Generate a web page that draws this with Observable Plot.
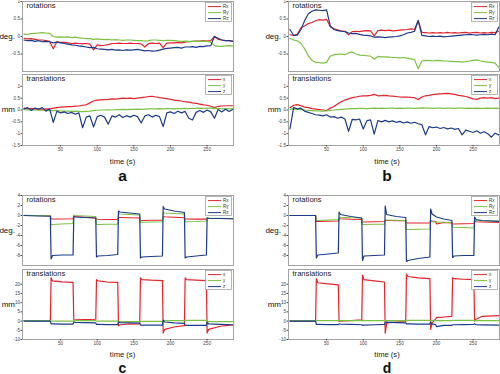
<!DOCTYPE html>
<html><head><meta charset="utf-8">
<script src="https://cdn.jsdelivr.net/npm/d3@7"></script>
<script src="https://cdn.jsdelivr.net/npm/@observablehq/plot@0.6"></script>
<style>
body{margin:0;background:#fff;}
#fig{position:relative;width:500px;height:374px;overflow:hidden;background:#fff;font-family:"Liberation Sans",Arial,sans-serif;}
</style></head><body><div id="fig"></div>
<script>
// ---------- time grids ----------
const tAB = [0,5,10,15,20,25,30,35,40,45,50,55,60,65,70,75,80,85,90,95,100,105,110,115,120,125,130,135,140,145,150,155,160,165,170,175,180,185,190,195,200,205,210,215,220,225,230,235,240,245,250,255,260,265,270,275,280,285];
const tC = [0,18,36, 37,39,52,67, 68,70,83,98, 99,101,114,128, 129,131,144,158, 159,161,174,189, 190,192,205,219, 220,222,235,249, 250,252,268,286];
const tD = [0,18,35, 36,38,52,66, 67,69,83,98, 99,101,115,129, 130,132,145,158, 159,161,175,191, 192,194,199,200,210,221, 222,224,237,251, 252,254,262,286];

// ---------- panel a ----------
const aRx = [-0.05,-0.07,-0.06,-0.08,-0.10,-0.10,-0.12,-0.14,-0.35,-0.15, -0.17,-0.17,-0.18,-0.20,-0.19,-0.20,-0.21,-0.20,-0.22,-0.38, -0.24,-0.26,-0.25,-0.23,-0.20,-0.20,-0.19,-0.20,-0.20,-0.19, -0.20,-0.20,-0.21,-0.30,-0.20,-0.19,-0.20,-0.19,-0.32,-0.19, -0.18,-0.18,-0.17,-0.18,-0.16,-0.15,-0.14,-0.13,-0.13,-0.12, -0.13,-0.12,0.00,-0.08,-0.10,-0.12,-0.12,-0.13];
const aRy = [0.07,0.06,0.08,0.09,0.10,0.11,0.10,0.09,0.00,-0.02, -0.01,-0.02,-0.01,-0.03,-0.02,-0.04,-0.05,-0.06,-0.06,-0.08, -0.07,-0.08,-0.09,-0.08,-0.10,-0.09,-0.10,-0.11,-0.10,-0.10, -0.11,-0.12,-0.12,-0.13,-0.12,-0.10,-0.10,-0.11,-0.12,-0.11, -0.11,-0.12,-0.13,-0.14,-0.13,-0.14,-0.14,-0.13,-0.14,-0.13, -0.14,-0.16,-0.26,-0.28,-0.28,-0.27,-0.26,-0.27];
const aRz = [-0.10,-0.12,-0.11,-0.14,-0.12,-0.15,-0.14,-0.15,-0.18,-0.16, -0.18,-0.20,-0.22,-0.24,-0.25,-0.27,-0.28,-0.30,-0.32,-0.31, -0.35,-0.36,-0.37,-0.38,-0.37,-0.39,-0.38,-0.40,-0.38,-0.39, -0.38,-0.37,-0.39,-0.41,-0.40,-0.42,-0.41,-0.39,-0.36,-0.34, -0.33,-0.32,-0.31,-0.33,-0.30,-0.30,-0.29,-0.31,-0.28,-0.29, -0.27,-0.26,0.00,-0.05,-0.10,-0.12,-0.12,-0.14];
const aX = [0.08,0.05,0.07,0.04,0.05,0.03,0.05,0.04,0.08,0.10, 0.12,0.13,0.14,0.14,0.16,0.17,0.20,0.22,0.30,0.38, 0.42,0.43,0.44,0.45,0.47,0.46,0.48,0.50,0.49,0.50, 0.48,0.50,0.52,0.54,0.57,0.58,0.55,0.52,0.50,0.48, 0.45,0.42,0.40,0.38,0.35,0.33,0.30,0.28,0.25,0.22, 0.20,0.16,0.10,0.15,0.17,0.18,0.18,0.18];
const aY = [0.02,0.00,0.01,0.00,-0.01,0.00,-0.02,-0.03,-0.03,-0.02, -0.04,-0.05,-0.05,-0.06,-0.05,-0.06,-0.07,-0.06,-0.05,-0.03, -0.01,0.00,0.00,0.01,0.00,0.02,0.02,0.03,0.02,0.03, 0.03,0.04,0.03,0.04,0.05,0.05,0.05,0.06,0.05,0.06, 0.06,0.05,0.06,0.06,0.07,0.06,0.07,0.07,0.08,0.07, 0.08,0.08,0.07,0.06,0.05,0.06,0.05,0.05];
const aZ = [0.05,0.10,-0.02,0.08,0.03,0.10,-0.05,0.05,-0.52,-0.05, -0.12,-0.08,-0.15,-0.10,-0.18,-0.12,-0.75,-0.30,-0.25,-0.72, -0.28,-0.22,-0.30,-0.60,-0.25,-0.30,-0.20,-0.32,-0.24,-0.30, -0.22,-0.28,-0.55,-0.25,-0.20,-0.30,-0.22,-0.28,-0.70,-0.12, -0.08,-0.15,-0.05,-0.12,-0.06,-0.35,-0.42,-0.10,-0.02,-0.10, 0.00,-0.08,-0.35,0.02,-0.08,0.03,-0.06,0.02];

// ---------- panel b ----------
const bRx = [0.05,0.03,0.06,0.25,0.30,0.37,0.40,0.45,0.48,0.47, 0.49,0.28,0.22,0.19,0.16,0.15,0.05,0.14,0.15,0.14, 0.16,0.17,0.16,0.02,0.17,0.18,0.17,0.18,0.16,0.17, 0.18,0.19,0.20,0.22,0.20,0.45,0.12,0.11,0.10,0.11, 0.10,0.11,0.10,0.12,0.10,0.11,0.10,0.11,0.12,0.10, 0.11,0.12,0.10,0.11,0.10,0.12,0.11,0.15];
const bRy = [-0.05,-0.10,-0.12,-0.20,-0.35,-0.55,-0.68,-0.74,-0.75,-0.76, -0.74,-0.56,-0.52,-0.51,-0.50,-0.52,-0.47,-0.44,-0.50,-0.53, -0.54,-0.55,-0.56,-0.65,-0.57,-0.58,-0.58,-0.59,-0.60,-0.60, -0.61,-0.60,-0.62,-0.64,-0.66,-0.92,-0.70,-0.68,-0.69,-0.70, -0.68,-0.69,-0.70,-0.70,-0.71,-0.72,-0.72,-0.73,-0.72,-0.70, -0.68,-0.67,-0.70,-0.72,-0.73,-0.74,-0.76,-0.88];
const bRz = [0.20,0.03,0.04,0.20,0.45,0.65,0.72,0.76,0.75,0.74, 0.76,0.30,0.20,0.17,0.15,0.14,0.10,0.08,0.09,0.06, 0.04,0.03,0.02,-0.02,-0.01,-0.02,-0.03,-0.02,-0.01,0.00, 0.02,0.05,0.10,0.12,0.15,0.46,0.03,0.02,0.00,0.01, 0.00,0.01,-0.01,0.00,0.01,0.02,0.03,0.04,0.05,0.06, 0.05,0.04,0.05,0.06,0.05,0.07,0.05,0.27];
const bX = [0.10,0.20,0.23,0.18,0.12,0.10,0.06,0.04,0.02,0.00, -0.02,0.08,0.15,0.25,0.35,0.42,0.47,0.52,0.55,0.58, 0.60,0.60,0.62,0.66,0.60,0.61,0.62,0.60,0.59,0.57, 0.55,0.54,0.55,0.53,0.52,0.44,0.55,0.60,0.62,0.65, 0.67,0.68,0.69,0.70,0.68,0.66,0.62,0.60,0.57,0.52, 0.47,0.45,0.50,0.52,0.50,0.52,0.48,0.50];
const bY = [0.04,0.05,0.03,0.02,0.00,-0.02,-0.03,-0.04,-0.04,-0.05, -0.04,-0.02,0.00,0.02,0.03,0.04,0.05,0.06,0.06,0.07, 0.07,0.06,0.07,0.08,0.07,0.08,0.07,0.08,0.08,0.07, 0.08,0.07,0.08,0.08,0.07,0.08,0.09,0.08,0.08,0.07, 0.08,0.08,0.07,0.08,0.08,0.07,0.08,0.08,0.07,0.08, 0.07,0.08,0.07,0.07,0.08,0.07,0.08,0.07];
const bZ = [-0.80,0.10,0.05,0.08,-0.05,-0.10,-0.15,-0.20,-0.22,-0.25, -0.20,-0.30,-0.28,-0.35,-0.30,-0.38,-0.90,-0.40,-0.42,-0.38, -0.80,-0.45,-0.42,-1.02,-0.45,-0.50,-0.44,-0.50,-0.46,-0.52, -0.48,-0.55,-0.50,-0.56,-0.52,-0.58,-0.62,-1.05,-0.70,-0.75, -0.72,-0.78,-0.74,-0.80,-0.76,-0.82,-0.78,-1.05,-0.85,-0.90, -0.95,-0.88,-0.98,-0.92,-1.00,-1.15,-0.98,-1.05];

// ---------- panel c ----------
const cRx = [0,0,-0.05, -0.7,-0.7,-0.7,-0.65, -0.1,-0.2,-0.35,-0.5, -0.7,-0.75,-0.8,-0.8, -0.4,-0.4,-0.45,-0.5, -1.0,-1.0,-0.95,-0.95, -0.2,-0.25,-0.35,-0.45, -0.7,-0.7,-0.72,-0.72, -0.5,-0.55,-0.6,-0.65];
const cRy = [0.05,0,-0.05, -1.9,-1.8,-1.7,-1.6, 0.1,0,-0.1,-0.2, -1.8,-1.8,-1.75,-1.75, 0.4,0.3,0.2,0.1, -1.4,-1.35,-1.3,-1.25, 0.6,0.5,0.4,0.3, -1.3,-1.25,-1.2,-1.1, -0.45,-0.5,-0.55,-0.6];
const cRz = [0,-0.1,-0.15, -8.7,-8.0,-7.9,-7.9, -0.2,-0.3,-0.4,-0.5, -8.3,-8.1,-8.0,-7.8, 0.9,0.7,0.5,0.3, -8.5,-8.3,-8.2,-8.1, 1.8,1.3,0.9,0.6, -8.5,-8.3,-8.1,-7.9, -0.5,-0.55,-0.6,-0.65];
const cX = [0.3,0.3,0.3, 23.5,21.8,21.3,21.0, 0.5,0.6,0.8,1.0, 22.5,21.8,21.2,21.0, -2.5,-2.0,-1.6,-1.5, 23.5,22.5,22.2,22.0, -6.5,-4.5,-3.2,-2.5, 23.5,22.5,22.2,22.0, -6.5,-4.5,-2.8,-2.0];
const cY = [0.2,0.2,0.2, 0,0,0,0, 0.2,0.2,0.2,0.2, 0,0,0,0, -0.3,-0.3,-0.3,-0.3, -0.2,-0.2,-0.2,-0.2, 0.3,0.3,0.3,0.3, 0.4,0.4,0.4,0.4, -0.3,-0.3,-0.3,-0.3];
const cZ = [0,0,0, -1.5,-1.5,-1.6,-1.6, -0.5,-0.7,-0.8,-1.0, -1.8,-1.8,-1.9,-1.9, -0.5,-0.8,-1.0,-1.1, -2.2,-2.2,-2.2,-2.2, 0.5,-0.5,-1.0,-1.2, -2.2,-2.3,-2.3,-2.3, -0.5,-1.5,-1.8,-2.0];

// ---------- panel d ----------
const dRx = [0,0,0, -1.2,-1.2,-1.15,-1.1, -0.6,-0.65,-0.75,-0.8, -1.3,-1.3,-1.25,-1.2, -1.0,-1.0,-1.05,-1.05, -1.5,-1.5,-1.5,-1.5, -1.0,-1.1,-1.2,-1.7,-1.4,-1.5, -1.7,-1.7,-1.65,-1.6, -1.2,-1.25,-1.3,-1.4];
const dRy = [0,0,0, -1.0,-1.0,-0.9,-0.8, -0.3,-0.35,-0.45,-0.5, -1.8,-1.8,-1.75,-1.75, -0.9,-0.9,-0.95,-1.0, -2.8,-2.8,-2.75,-2.7, -1.2,-1.25,-1.3,-1.3,-1.35,-1.4, -2.3,-2.35,-2.4,-2.5, -1.0,-1.0,-1.05,-1.1];
const dRz = [0,0,0, -8.5,-7.9,-7.7,-7.5, 0.7,0.2,-0.2,-0.5, -9.0,-8.1,-8.0,-7.9, 1.9,0.2,-0.2,-0.4, -9.2,-9.0,-8.6,-8.3, 1.3,0.3,-0.2,-0.3,-0.7,-1.0, -8.4,-8.1,-8.0,-8.0, -0.3,-0.8,-1.0,-1.2];
const dX = [0,0,0, 23.0,20.8,20.2,19.7, -0.2,0.0,0.3,0.7, 25.0,22.5,21.8,21.2, -6.5,-1.0,-0.6,-0.3, 25.5,24.2,23.5,23.0, -4.5,-1.0,1.2,2.0,2.2,2.6, 23.5,23.0,22.7,22.5, 0.0,1.0,2.5,3.0];
const dY = [0.2,0.2,0.2, 0.3,0.3,0.3,0.3, 0.3,0.3,0.3,0.3, 0.3,0.3,0.3,0.3, 0.3,0.3,0.3,0.3, 0.4,0.4,0.4,0.4, 0.3,0.3,0.3,0.3,0.3,0.3, 0.4,0.4,0.4,0.4, 0.3,0.3,0.3,0.3];
const dZ = [0,0,0, -1.8,-1.8,-1.9,-1.9, -1.5,-1.6,-1.8,-2.0, -2.3,-2.2,-2.0,-1.8, -0.8,-0.6,-0.8,-1.0, -1.5,-1.5,-1.6,-1.6, -0.5,-1.5,-2.0,-3.0,-2.3,-2.3, -2.0,-2.0,-1.9,-1.8, -1.5,-2.0,-2.1,-2.2];

// ---------- axes / labels ----------
const xDomain = [-2, 286];
const xTicks = [50,100,150,200,250];
const rotDomainAB = [-1, 1], rotTicksAB = [-0.5,0,0.5,1];
const transDomainAB = [-1.5, 1.5], transTicksAB = [-1.5,-1,-0.5,0,0.5,1];
const rotDomainCD = [-10, 4], rotTicksCD = [-8,-6,-4,-2,0,2,4];
const transDomainCD = [-10, 28], transTicksCD = [-10,-5,0,5,10,15,20];
const rotLabels = ["Rx","Ry","Rz"], transLabels = ["x","y","z"];
const panelLetters = ["a","b","c","d"];
const colors = ["#e4232c","#7dc143","#1d3b8b"];

const fig = document.getElementById("fig");
const FW = 211;
const overlay = d3.create("svg").attr("width",500).attr("height",374)
  .style("position","absolute").style("left","0px").style("top","0px")
  .style("font-family","'Liberation Sans',Arial,sans-serif");

function subplot({x0, y0, h, t, vals, yDomain, yTicks, title, labels, showX, ylabel}) {
  const ml = 24, mr = 1, mt = 1, mb = showX ? 10 : 1;
  const marks = [];
  vals.forEach((v, k) => {
    const data = t.map((tt, i) => ({t: tt, v: v[i]}));
    marks.push(Plot.line(data, {x: "t", y: "v", stroke: colors[k], strokeWidth: 1.2, clip: true}));
  });
  marks.push(Plot.frame({stroke: "#a3a3a3", strokeWidth: 1}));
  marks.push(Plot.axisY({ticks: yTicks, tickFormat: d => String(d), tickSize: 1.5, tickPadding: 1, fontSize: 4.6, label: null}));
  if (showX) marks.push(Plot.axisX({ticks: xTicks, tickFormat: d => String(d), tickSize: 1.5, tickPadding: 1, fontSize: 4.6, label: null}));
  marks.push(Plot.text([title], {text: d => d, frameAnchor: "top-left", dx: 4, dy: 1.5, lineAnchor: "top", fontSize: 7.6, fill: "#222"}));
  const svg = Plot.plot({
    width: ml + FW + mr, height: mt + h + mb,
    marginLeft: ml, marginRight: mr, marginTop: mt, marginBottom: mb,
    x: {domain: xDomain, axis: showX ? undefined : null},
    y: {domain: yDomain},
    style: {fontFamily: "'Liberation Sans',Arial,sans-serif", fontSize: "4.6px", color: "#444", background: "transparent", overflow: "visible"},
    marks
  });
  svg.style.position = "absolute";
  svg.style.left = (x0 - ml) + "px";
  svg.style.top = (y0 - mt) + "px";
  fig.appendChild(svg);

  // y label
  overlay.append("text").attr("x", x0 - 7).attr("y", y0 + h / 2 + 2.8)
    .attr("text-anchor", "end").attr("font-size", 8).attr("fill", "#111").text(ylabel);
  // legend
  const g = overlay.append("g").attr("transform", `translate(${x0 + FW - 28},${y0 + 1})`);
  g.append("rect").attr("x", 0.5).attr("y", 0.5).attr("width", 26).attr("height", 19)
    .attr("fill", "#fff").attr("stroke", "#a3a3a3").attr("stroke-width", 0.8);
  labels.forEach((lab, k) => {
    const yy = 4.6 + k * 6;
    g.append("line").attr("x1", 3).attr("x2", 16).attr("y1", yy).attr("y2", yy)
      .attr("stroke", colors[k]).attr("stroke-width", 1);
    g.append("text").attr("x", 18).attr("y", yy + 1.6).attr("font-size", 4.6).attr("fill", "#333").text(lab);
  });
}

const panels = [
  {x0: 22,  rotY: 1,   transY: 74,  rotH: 70, transH: 71, t: tAB, rot: [aRx,aRy,aRz], tr: [aX,aY,aZ], rd: rotDomainAB, rt: rotTicksAB, td: transDomainAB, tt: transTicksAB, cx: 122.5, timeY: 163.8, letY: 180.5, letSize: 15.5},
  {x0: 288, rotY: 1,   transY: 74,  rotH: 70, transH: 71, t: tAB, rot: [bRx,bRy,bRz], tr: [bX,bY,bZ], rd: rotDomainAB, rt: rotTicksAB, td: transDomainAB, tt: transTicksAB, cx: 387, timeY: 163.8, letY: 180.5, letSize: 15.5},
  {x0: 22,  rotY: 195, transY: 269, rotH: 70, transH: 70, t: tC,  rot: [cRx,cRy,cRz], tr: [cX,cY,cZ], rd: rotDomainCD, rt: rotTicksCD, td: transDomainCD, tt: transTicksCD, cx: 122.5, timeY: 357.3, letY: 372.5, letSize: 14},
  {x0: 288, rotY: 195, transY: 269, rotH: 70, transH: 70, t: tD,  rot: [dRx,dRy,dRz], tr: [dX,dY,dZ], rd: rotDomainCD, rt: rotTicksCD, td: transDomainCD, tt: transTicksCD, cx: 387, timeY: 357.3, letY: 372.5, letSize: 14}
];

panels.forEach((p, i) => {
  subplot({x0: p.x0, y0: p.rotY, h: p.rotH, t: p.t, vals: p.rot, yDomain: p.rd, yTicks: p.rt, title: "rotations", labels: rotLabels, showX: false, ylabel: "deg."});
  subplot({x0: p.x0, y0: p.transY, h: p.transH, t: p.t, vals: p.tr, yDomain: p.td, yTicks: p.tt, title: "translations", labels: transLabels, showX: true, ylabel: "mm"});
  overlay.append("text").attr("x", p.cx).attr("y", p.timeY).attr("text-anchor", "middle")
    .attr("font-size", 7.6).attr("fill", "#222").text("time (s)");
  overlay.append("text").attr("x", p.cx).attr("y", p.letY).attr("text-anchor", "middle")
    .attr("font-size", p.letSize).attr("font-weight", "bold").attr("fill", "#111").text(panelLetters[i]);
});

fig.appendChild(overlay.node());
</script></body></html>
